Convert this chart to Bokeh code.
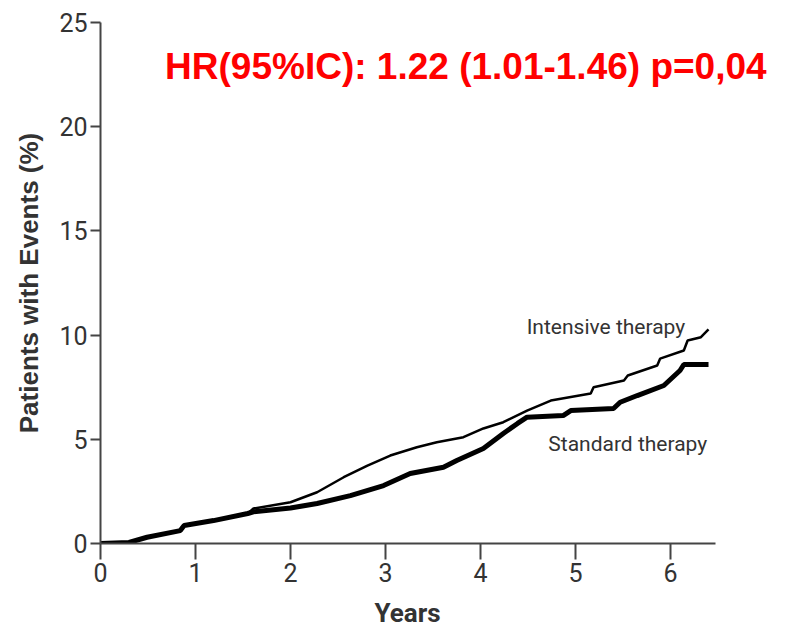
from bokeh.plotting import figure
from bokeh.models import Label, Range1d, FixedTicker, Title
from bokeh.embed import file_html
from bokeh.resources import INLINE

# ---- data ----
intensive_years = [0.0, 0.30, 0.49, 0.84, 0.88, 1.19, 1.55, 1.61, 2.00, 2.28, 2.56, 2.81, 3.05,
                   3.33, 3.54, 3.82, 4.03, 4.24, 4.49, 4.74, 5.16, 5.19, 5.51, 5.55, 5.86,
                   5.89, 6.14, 6.18, 6.32, 6.40]
intensive_pct = [0.0, 0.05, 0.30, 0.62, 0.86, 1.10, 1.44, 1.68, 1.98, 2.46, 3.18, 3.74, 4.22,
                 4.62, 4.86, 5.10, 5.52, 5.82, 6.38, 6.86, 7.20, 7.50, 7.82, 8.06, 8.54,
                 8.87, 9.26, 9.74, 9.90, 10.27]

standard_years = [0.0, 0.30, 0.49, 0.84, 0.88, 1.19, 1.55, 1.61, 2.00, 2.28, 2.63, 2.98, 3.26,
                  3.61, 3.75, 4.03, 4.24, 4.39, 4.49, 4.87, 4.95, 5.40, 5.47, 5.65, 5.93,
                  6.10, 6.14, 6.40]
standard_pct = [0.0, 0.05, 0.30, 0.62, 0.86, 1.10, 1.44, 1.52, 1.70, 1.92, 2.30, 2.78, 3.36,
                3.66, 3.98, 4.56, 5.28, 5.76, 6.06, 6.14, 6.38, 6.48, 6.78, 7.10, 7.58,
                8.30, 8.59, 8.59]

x_ticks = [0, 1, 2, 3, 4, 5, 6]
y_ticks = [0, 5, 10, 15, 20, 25]

title_text = "HR(95%IC): 1.22 (1.01-1.46) p=0,04"
label_intensive = "Intensive therapy"
label_standard = "Standard therapy"
x_title = "Years"
y_title = "Patients with Events (%)"

NARROW = "Roboto"
AXIS_COLOR = "#444444"
TEXT_COLOR = "#333333"

p = figure(width=794, height=639, output_backend="svg", toolbar_location=None,
           x_range=Range1d(0, 7.305), y_range=Range1d(0, 25),
           min_border_left=100, min_border_right=0, min_border_top=22, min_border_bottom=96)
p.outline_line_color = None
p.xgrid.visible = False
p.ygrid.visible = False
p.background_fill_color = "white"
p.border_fill_color = "white"

p.line(standard_years, standard_pct, line_color="black", line_width=5)
p.line(intensive_years, intensive_pct, line_color="black", line_width=2.5)

for ax in (p.xaxis[0], p.yaxis[0]):
    ax.axis_line_width = 2
    ax.axis_line_color = AXIS_COLOR
    ax.major_tick_line_color = AXIS_COLOR
    ax.major_tick_line_width = 2
    ax.minor_tick_line_color = None
    ax.major_tick_in = 0
    ax.major_label_text_font = NARROW
    ax.major_label_text_font_size = "25px"
    ax.major_label_text_color = TEXT_COLOR
    ax.axis_label_text_color = TEXT_COLOR
    ax.axis_label_text_font_style = "bold"

p.xaxis.bounds = (0, 6.47)
p.xaxis.ticker = FixedTicker(ticks=x_ticks)
p.yaxis.ticker = FixedTicker(ticks=y_ticks)
p.xaxis.major_tick_out = 16
p.yaxis.major_tick_out = 10
p.xaxis.major_label_standoff = 3
p.yaxis.major_label_standoff = 3

p.yaxis.axis_label = y_title
p.yaxis.axis_label_text_font = "Liberation Sans"
p.yaxis.axis_label_text_font_size = "26px"
p.yaxis.axis_label_standoff = 12

p.add_layout(Title(text=x_title, align="left", offset=274, standoff=23,
                   text_font=NARROW, text_font_style="bold", text_font_size="26px",
                   text_color=TEXT_COLOR), "below")

p.add_layout(Label(x=0.68, y=22.9, text=title_text, text_color="#FF0000",
                   text_font="Liberation Sans", text_font_style="bold",
                   text_font_size="37px", text_baseline="alphabetic"))
p.add_layout(Label(x=5.32, y=10.41, text=label_intensive, text_color=TEXT_COLOR,
                   text_font=NARROW, text_font_size="21px", text_align="center",
                   text_baseline="alphabetic"))
p.add_layout(Label(x=5.55, y=4.79, text=label_standard, text_color=TEXT_COLOR,
                   text_font=NARROW, text_font_size="21px", text_align="center",
                   text_baseline="alphabetic"))

open("out.html", "w").write(file_html(p, INLINE))
